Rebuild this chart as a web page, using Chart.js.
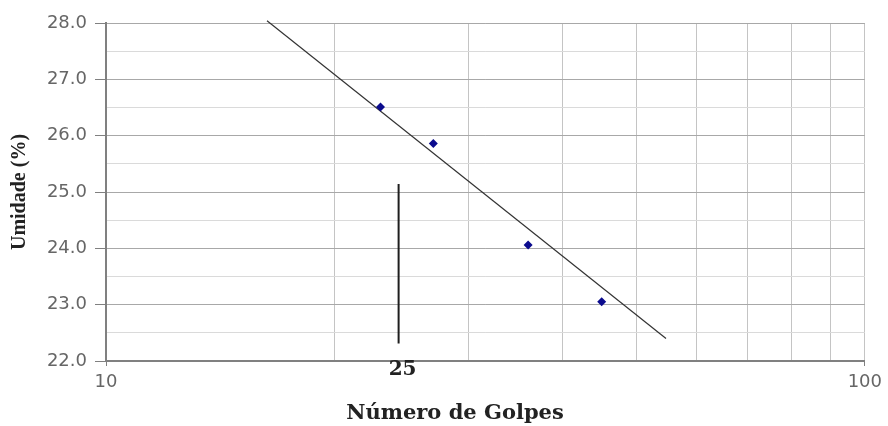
<!DOCTYPE html>
<html>
<head>
<meta charset="utf-8">
<title>Umidade x Número de Golpes</title>
<script src="https://cdn.jsdelivr.net/npm/chart.js@4.4.1/dist/chart.umd.min.js"></script>
<style>
  html, body { margin: 0; padding: 0; background: #fff; }
  #wrap { width: 888px; height: 426px; }
</style>
</head>
<body>
<div id="wrap"><canvas id="chart" width="888" height="426"></canvas></div>
<script>
// Ensaio de limite de liquidez
const golpes = [23, 27, 36, 45];
const umidade = [26.51, 25.86, 24.06, 23.05];

// reta de ajuste
const trendX = [16.3, 54.7];
const trendY = [28.04, 22.40];

// marca em 25 golpes
const markX = [24.3, 24.3];
const markY = [25.14, 22.31];
const markLabel = '25';

const xGridTicks = [10, 20, 30, 40, 50, 60, 70, 80, 90, 100];
const xLabelTicks = [10, 100];

const toPoints = (xs, ys) => xs.map((x, i) => ({ x, y: ys[i] }));

// texto do eixo x e rótulo "25"
const annotations = {
  id: 'annotations',
  afterDraw(chart) {
    const { ctx, scales } = chart;
    const x = scales.x;
    const bottom = chart.chartArea.bottom;
    ctx.save();
    ctx.fillStyle = '#222';
    ctx.textAlign = 'center';
    ctx.textBaseline = 'middle';
    ctx.font = 'bold 20px "DejaVu Serif"';
    ctx.fillText(markLabel, x.getPixelForValue(markX[0]) + 4, bottom + 9);
    ctx.font = 'bold 21px "DejaVu Serif"';
    ctx.fillText('Número de Golpes', 455, 414);
    ctx.restore();
  }
};

new Chart(document.getElementById('chart'), {
  type: 'scatter',
  data: {
    datasets: [
      {
        label: 'Umidade',
        data: toPoints(golpes, umidade),
        pointStyle: 'rectRot',
        pointRadius: 4.5,
        backgroundColor: '#0b0b8e',
        borderColor: '#0b0b8e',
        borderWidth: 0,
        order: 0
      },
      {
        label: 'Ajuste',
        data: toPoints(trendX, trendY),
        showLine: true,
        pointRadius: 0,
        borderColor: '#333',
        borderWidth: 1.2,
        clip: false,
        order: 1
      },
      {
        label: '25 golpes',
        data: toPoints(markX, markY),
        showLine: true,
        pointRadius: 0,
        borderColor: '#1e1e1e',
        borderWidth: 2,
        order: 2
      }
    ]
  },
  options: {
    responsive: false,
    animation: false,
    devicePixelRatio: 1,
    layout: { padding: { top: 23, right: 22, left: 0, bottom: 0 } },
    plugins: {
      legend: { display: false },
      tooltip: { enabled: false }
    },
    scales: {
      x: {
        type: 'logarithmic',
        min: 10,
        max: 100,
        afterBuildTicks: s => { s.ticks = xGridTicks.map(v => ({ value: v })); },
        afterFit: s => { s.height = 65; },
        border: { color: '#808080', width: 2 },
        grid: {
          color: '#c4c4c4',
          lineWidth: 1,
          tickLength: 5,
          tickColor: ctx => xLabelTicks.includes(ctx.tick.value) ? '#808080' : 'rgba(0,0,0,0)'
        },
        ticks: {
          autoSkip: false,
          maxRotation: 0,
          padding: 6,
          color: '#666',
          font: { family: '"DejaVu Sans"', size: 18 },
          callback: v => xLabelTicks.includes(v) ? String(v) : ''
        }
      },
      y: {
        min: 22,
        max: 28,
        afterFit: s => { s.width = 106; },
        border: { color: '#808080', width: 2 },
        grid: {
          color: ctx => ctx.tick.value % 1 === 0 ? '#a8a8a8' : '#dadada',
          lineWidth: 1,
          tickLength: 11,
          tickColor: ctx => ctx.tick.value % 1 === 0 ? '#808080' : 'rgba(0,0,0,0)'
        },
        ticks: {
          stepSize: 0.5,
          padding: 8,
          color: '#666',
          font: { family: '"DejaVu Sans"', size: 18 },
          callback: v => v % 1 === 0 ? v.toFixed(1) : ''
        },
        title: {
          display: true,
          text: 'Umidade (%)',
          color: '#222',
          font: { family: '"Liberation Serif"', size: 20, weight: 'bold' },
          padding: { top: 8, bottom: 0 }
        }
      }
    }
  },
  plugins: [annotations]
});
</script>
</body>
</html>
